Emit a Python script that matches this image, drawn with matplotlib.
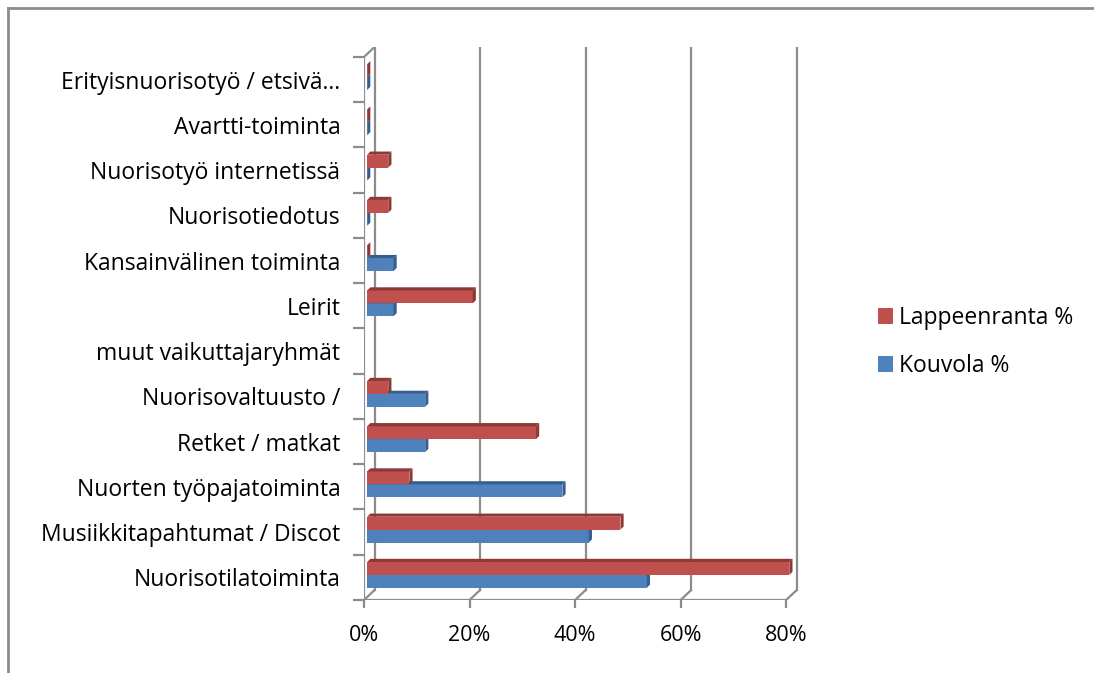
import numpy as np
import matplotlib
matplotlib.use('Agg')
from matplotlib import pyplot as plt
from matplotlib.patches import Polygon, Patch
from matplotlib.lines import Line2D

categories = ['Nuorisotilatoiminta', 'Musiikkitapahtumat / Discot',
              'Nuorten työpajatoiminta', 'Retket / matkat',
              'Nuorisovaltuusto /', 'muut vaikuttajaryhmät', 'Leirit',
              'Kansainvälinen toiminta', 'Nuorisotiedotus',
              'Nuorisotyö internetissä', 'Avartti-toiminta',
              'Erityisnuorisotyö / etsivä…']
lappeenranta = [80, 48, 8, 32, 4, np.nan, 20, 0, 4, 4, 0, 0]
kouvola = [53, 42, 37, 11, 11, np.nan, 5, 5, 0, 0, 0, 0]
xticks = [0, 20, 40, 60, 80]

RED, RED_D = '#C0504D', '#8E3835'
BLUE, BLUE_D = '#4F81BD', '#365E8F'

plt.rcParams['font.family'] = ['Open Sans', 'DejaVu Sans']

W, H = 1094, 673
fig = plt.figure(figsize=(W / 100, H / 100), dpi=100)
ax = fig.add_axes([364 / W, 1 - 600 / H, 438 / W, 553 / H])

n = len(categories)
ax.set_xlim(0, 83)
ax.set_ylim(-0.5, n - 0.5 + 0.22)

dx, dy = 0.6, 0.07     # depth of bars
wx, wy = 2.0, 0.22     # depth of back wall
x0 = 0.6               # bars sit a little inside the floor
bh = 0.285


def bar3d(y0, v, face, side):
    if np.isnan(v):
        return
    y1 = y0 + bh
    e = x0 + v
    ax.add_patch(Polygon([(x0, y0), (e, y0), (e, y1), (x0, y1)],
                         closed=True, fc=face, ec='none', zorder=3))
    ax.add_patch(Polygon([(x0, y1), (e, y1), (e + dx, y1 + dy), (x0 + dx, y1 + dy)],
                         closed=True, fc=side, ec='none', zorder=3))
    ax.add_patch(Polygon([(e, y0), (e, y1), (e + dx, y1 + dy), (e + dx, y0 + dy)],
                         closed=True, fc=side, ec='none', zorder=3))


for i in range(n):
    bar3d(i - 0.23, kouvola[i], BLUE, BLUE_D)
    bar3d(i + 0.055, lappeenranta[i], RED, RED_D)

# back wall gridlines and floor diagonals
ytop = n - 0.5 + wy
ybot = -0.5
gcol = '#8C8C8C'
for t in xticks:
    ax.plot([t + wx, t + wx], [ybot + wy, ytop], color=gcol, lw=1.6, zorder=1)
    ax.plot([t, t + wx], [ybot, ybot + wy], color=gcol, lw=1.6, zorder=1)
# left wall
ax.plot([0, 0], [ybot, n - 0.5], color=gcol, lw=1.6, zorder=2)
ax.plot([0, wx], [n - 0.5, ytop], color=gcol, lw=1.6, zorder=2)
ax.plot([0, 80], [ybot, ybot], color=gcol, lw=1.6, zorder=2)

for s in ax.spines.values():
    s.set_visible(False)
ax.set_xticks(xticks)
ax.set_xticklabels(['%d%%' % t for t in xticks], fontsize=15.5)
ax.set_yticks(np.arange(-0.5, n, 1.0))
ax.set_yticklabels([])
ax.set_yticks(np.arange(n), minor=True)
ax.set_yticklabels(categories, minor=True, fontsize=16.5)
ax.tick_params(axis='y', which='minor', length=0, pad=17)
ax.tick_params(axis='y', which='major', length=8, width=1.6, color=gcol)
ax.tick_params(axis='x', length=6, width=1.6, color=gcol, pad=12)

handles = [Patch(fc=RED, ec='none'), Patch(fc=BLUE, ec='none')]
fig.legend(handles, ['Lappeenranta %', 'Kouvola %'], loc='center left',
           bbox_to_anchor=(857 / W, 1 - 342 / H), frameon=False, fontsize=16.5,
           handlelength=0.65, handleheight=0.65, handletextpad=0.3,
           labelspacing=1.05)

# chart frame
fig.add_artist(Line2D([8 / W, 8 / W], [0, 1 - 8 / H], color='#8C8C8C', lw=2))
fig.add_artist(Line2D([8 / W, 1], [1 - 8 / H, 1 - 8 / H], color='#8C8C8C', lw=2))

fig.savefig('out.png', dpi=100)
